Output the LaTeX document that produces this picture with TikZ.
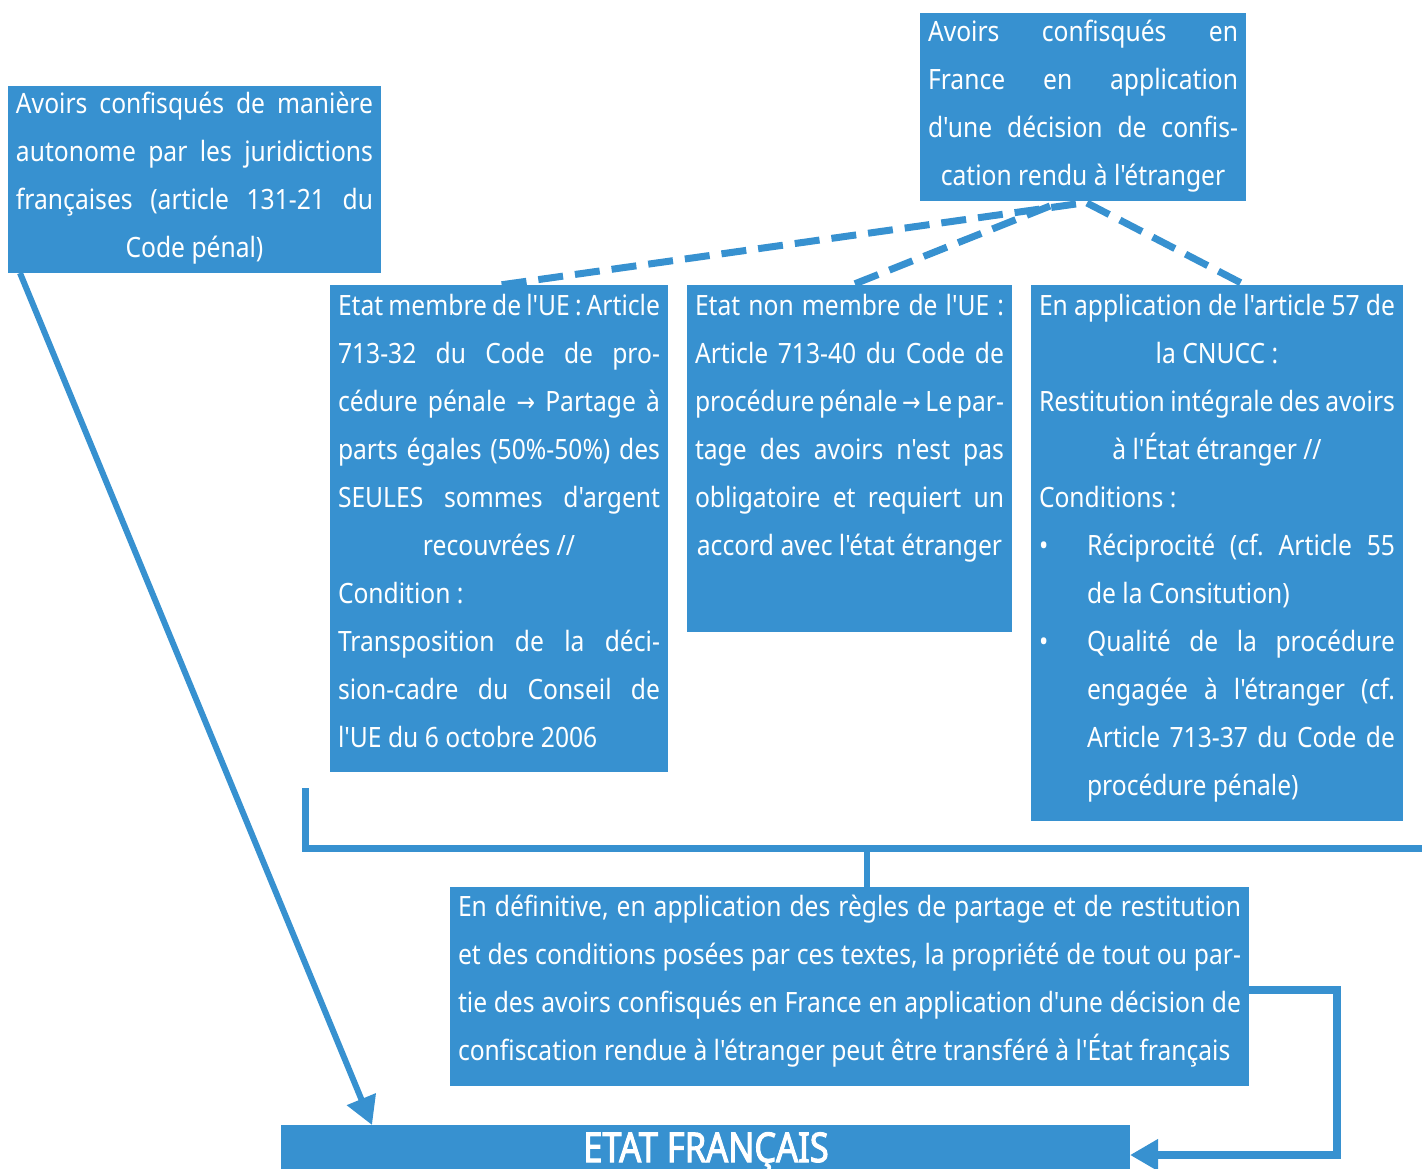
\documentclass[tikz,border=0pt]{standalone}
\usepackage{fontspec}
\setmainfont{Noto Sans}[FakeStretch=0.88, Ligatures=TeXOff]
\newfontfamily\arrfont{DejaVu Sans}[FakeStretch=0.85]
\newfontfamily\gfont{Noto Sans}[FakeStretch=0.84, FakeBold=2.5]
\usetikzlibrary{arrows.meta}
\definecolor{bl}{RGB}{55,145,208}
\frenchspacing
\newcommand\bw{300pt}
\newcommand\jl[1]{\hbox to \bw{\strut #1}}
\newcommand\cl[1]{\hbox to \bw{\hfil\strut #1\hfil}}
\newcommand\lfl[1]{\hbox to \bw{\strut #1\hfil}}
\newcommand\arr{{\arrfont\fontsize{26pt}{48pt}\selectfont →}}
\tikzset{
  box/.style={fill=bl, draw=none, inner sep=0pt, outer sep=0pt, anchor=north west},
  txt/.style={inner sep=0pt, outer sep=0pt, anchor=north west, text=white, font=\fontsize{28pt}{48pt}\selectfont\frenchspacing},
  conn/.style={draw=bl, line width=7pt},
  dashconn/.style={draw=bl, line width=7pt, dash pattern=on 25pt off 12pt},
  tip/.style={-{Triangle[length=28pt,width=30pt]}}
}
\begin{document}
\begin{tikzpicture}[x=1pt,y=-1pt]
\useasboundingbox (0,0) rectangle (1422,1169);
% boxes
\node[box, minimum width=373pt, minimum height=187pt] (A) at (8,86) {};
\node[box, minimum width=326pt, minimum height=188pt] (B) at (920,13) {};
\node[box, minimum width=338pt, minimum height=487pt] (C) at (330,285) {};
\node[box, minimum width=325pt, minimum height=347pt] (D) at (687,285) {};
\node[box, minimum width=372pt, minimum height=536pt] (E) at (1031,285) {};
\node[box, minimum width=799pt, minimum height=199pt] (F) at (450,887) {};
\node[box, minimum width=849pt, minimum height=60pt] (G) at (281,1125) {};
% connectors
\draw[conn, line width=6pt, tip] ([xshift=12pt]A.south west) -- ([xshift=91pt]G.north west);
\draw[dashconn] ([xshift=156pt,yshift=-3pt]B.south west) -- ([xshift=170pt]C.north west);
\draw[dashconn] ([xshift=130pt,yshift=-5pt]B.south west) -- ([xshift=165pt]D.north west);
\draw[dashconn] ([xshift=167pt,yshift=-2pt]B.south west) -- ([xshift=214pt]E.north west);
\coordinate (bL) at (305,788);
\coordinate (bR) at (1440,848);
\draw[conn] (bL) |- (bR);
\coordinate (bJ) at (867,848);
\draw[conn, line width=6pt] (bJ) -- ([xshift=417pt]F.north west);
\draw[conn, line width=8pt, tip] ([yshift=-3pt]F.east) -- ++(88,0) |- (G.east);
% texts
\node[txt] (At) at (16,80.4) {\def\bw{357pt}\vbox{%
\jl{Avoirs confisqués de manière}
\jl{autonome par les juridictions}
\jl{françaises (article 131-21 du}
\cl{Code pénal)}}};
\node[txt] (Bt) at (928,8.4) {\def\bw{310pt}\vbox{%
\jl{Avoirs confisqués en}
\jl{France en application}
\jl{d'une décision de confis-}
\cl{cation rendu à l'étranger}}};
\node[txt] (Ct) at (338,281.4) {\def\bw{322pt}\vbox{%
\jl{Etat membre de l'UE : Article}
\jl{713-32 du Code de pro-}
\jl{cédure pénale \arr{} Partage à}
\jl{parts égales (50\%-50\%) des}
\jl{SEULES sommes d'argent}
\cl{recouvrées //}
\lfl{Condition :}
\jl{Transposition de la déci-}
\jl{sion-cadre du Conseil de}
\lfl{l'UE du 6 octobre 2006}}};
\node[txt] (Dt) at (695,281.4) {\def\bw{309pt}\vbox{%
\jl{Etat non membre de l'UE :}
\jl{Article 713-40 du Code de}
\jl{procédure pénale \arr{} Le par-}
\jl{tage des avoirs n'est pas}
\jl{obligatoire et requiert un}
\cl{accord avec l'état étranger}}};
\node[txt] (Et) at (1039,281.4) {\def\bw{356pt}\vbox{%
\jl{En application de l'article 57 de}
\cl{la CNUCC :}
\jl{Restitution intégrale des avoirs}
\cl{à l'État étranger //}
\lfl{Conditions :}
\jl{\hbox to 48pt{•\hfil}Réciprocité (cf. Article 55}
\lfl{\hskip 48pt de la Consitution)}
\jl{\hbox to 48pt{•\hfil}Qualité de la procédure}
\jl{\hskip 48pt engagée à l'étranger (cf.}
\jl{\hskip 48pt Article 713-37 du Code de}
\lfl{\hskip 48pt procédure pénale)}}};
\node[txt] (Ft) at (458,882.4) {\def\bw{783pt}\vbox{%
\jl{En définitive, en application des règles de partage et de restitution}
\jl{et des conditions posées par ces textes, la propriété de tout ou par-}
\jl{tie des avoirs confisqués en France en application d'une décision de}
\lfl{confiscation rendue à l'étranger peut être transféré à l'État français}}};
\node[inner sep=0pt, anchor=base, text=white, font=\gfont\fontsize{41pt}{48pt}\selectfont] (Gt) at (706,1162) {ETAT FRANÇAIS};
\end{tikzpicture}
\end{document}
